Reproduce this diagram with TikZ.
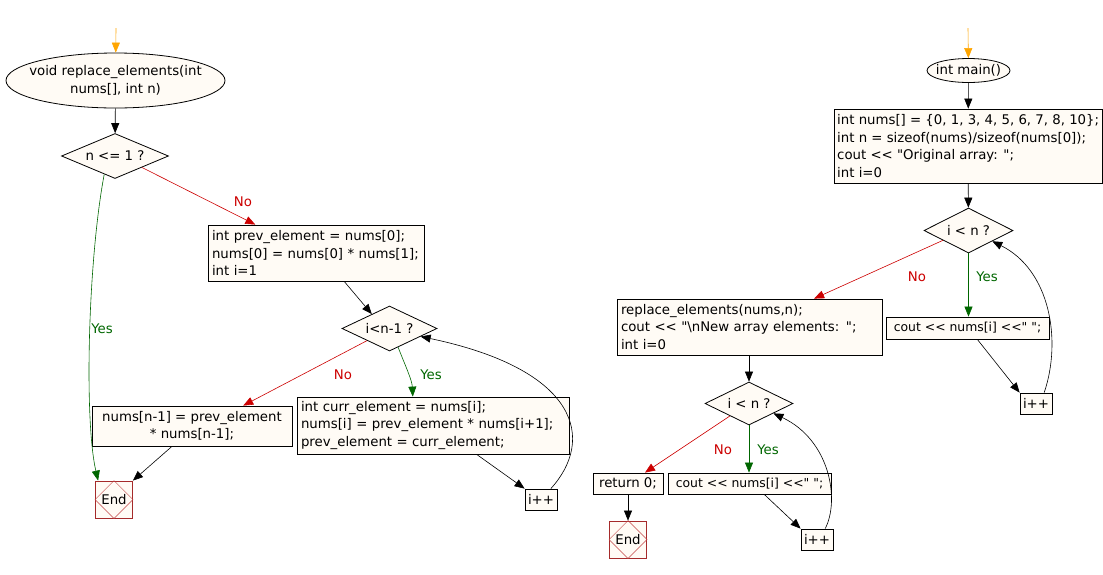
\documentclass[tikz,border=0pt]{standalone}
\usepackage{fontspec}
\newfontfamily\dvfont{DejaVu Sans}
\usetikzlibrary{shapes.geometric,arrows.meta,calc}
\definecolor{boxfill}{HTML}{FFFBF5}
\definecolor{yesgreen}{HTML}{006600}
\definecolor{nored}{HTML}{CC0000}
\definecolor{endred}{HTML}{A52A2A}
\definecolor{endline}{HTML}{C24545}
\definecolor{startorange}{HTML}{FFA500}
\begin{document}
\begin{tikzpicture}[x=1pt,y=-1pt,
  font=\dvfont\fontsize{13.3}{17.5}\selectfont,
  proc/.style={draw, fill=boxfill, rectangle, inner sep=0pt, line width=0.8pt},
  term/.style={ellipse, draw, fill=boxfill, inner sep=0pt, line width=0.8pt},
  dec/.style={diamond, draw, fill=boxfill, inner sep=0pt, aspect=2.4, line width=0.8pt},
  endbox/.style={draw=endred, fill=boxfill, minimum width=37, minimum height=37, inner sep=0pt, line width=0.8pt},
  conn/.style={-{Triangle[length=10pt,width=8pt]}, line width=0.6pt},
  startc/.style={conn, draw=startorange},
  yesc/.style={conn, draw=yesgreen},
  noc/.style={conn, draw=nored},
  yeslbl/.style={text=yesgreen, inner sep=0pt},
  nolbl/.style={text=nored, inner sep=0pt},
  plain/.style={inner sep=0pt, align=center},
  smalltext/.style={font=\dvfont\fontsize{12.4}{17.5}\selectfont}
]
\useasboundingbox (0,0) rectangle (1103,574);

% ---------------- left flow ----------------
\coordinate (st1) at (116,28);
\node[term, minimum width=219, minimum height=55] (s1) at (115.5,80.5) {};
\node[plain] (s1t) at (s1) {void replace\_elements(int\\nums[], int n)};
\node[dec, minimum width=107, minimum height=45] (d1) at (115,156) {n <= 1 ?};
\node[proc, minimum width=216, minimum height=56, text width=208, align=left] (b1) at (316,253)
  {int prev\_element = nums[0];\\nums[0] = nums[0] * nums[1];\\int i=1};
\node[dec, minimum width=95, minimum height=45] (d2) at (389.5,328.5) {i<n-1 ?};
\node[proc, minimum width=200, minimum height=40, align=center] (nm) at (192,426)
  {nums[n-1] = prev\_element\\* nums[n-1];};
\node[proc, minimum width=272, minimum height=57, text width=264, align=left] (ce) at (433,425.5)
  {int curr\_element = nums[i];\\nums[i] = prev\_element * nums[i+1];\\prev\_element = curr\_element;};
\node[proc, minimum width=32, minimum height=21] (i1) at (541,499.5) {i++};
\node[endbox] (e1) at (114,499.5) {};
\draw[endline, line width=0.5pt] (e1.north) -- (e1.east) -- (e1.south) -- (e1.west) -- cycle;
\node[plain] (e1t) at (e1) {End};

\draw[startc] (st1) -- (s1);
\draw[conn] (s1) -- (d1);
\draw[yesc] ($(d1.south)!0.2!(d1.west)$) .. controls (88,260) and (84,420) .. ($(e1.north west)!0.08!(e1.north east)$);
\node[yeslbl] (y1) at (102,329) {Yes};
\draw[noc] ($(d1.south)!0.5!(d1.east)$) -- ($(b1.north west)!0.22!(b1.north east)$);
\node[nolbl] (n1) at (243,202) {No};
\draw[conn] ($(b1.south west)!0.63!(b1.south east)$) -- ($(d2.north)!0.37!(d2.west)$);
\draw[noc] ($(d2.south)!0.47!(d2.west)$) -- ($(nm.north west)!0.755!(nm.north east)$);
\node[nolbl] (n2) at (343,375) {No};
\draw[yesc] ($(d2.south)!0.18!(d2.east)$) .. controls (405,365) and (412,380) .. ($(ce.north west)!0.426!(ce.north east)$);
\node[yeslbl] (y2) at (431,375) {Yes};
\draw[conn] ($(nm.south west)!0.4!(nm.south east)$) -- (e1.north east);
\draw[conn] ($(ce.south west)!0.66!(ce.south east)$) -- (i1.north west);
\draw[conn] ($(i1.north west)!0.8!(i1.north east)$) .. controls (595,440) and (580,370) .. ($(d2.east)!0.35!(d2.south)$);

% ---------------- right flow ----------------
\coordinate (st2) at (968,28);
\node[term, minimum width=83, minimum height=24] (s2) at (968.5,70.5) {};
\node[plain] (s2t) at (s2) {int main()};
\node[proc, minimum width=268, minimum height=74] (m1) at (968,146) {};
\node[inner sep=0pt, align=left, anchor=west] (m1t) at (837,146)
  {int nums[] = \{0, 1, 3, 4, 5, 6, 7, 8, 10\};\\int n = sizeof(nums)/sizeof(nums[0]);\\cout << "Original array: ";\\int i=0};
\node[dec, minimum width=89, minimum height=45] (d3) at (968.5,230.5) {i < n ?};
\node[proc, minimum width=265, minimum height=56, text width=257, align=left] (rep) at (749.5,327)
  {replace\_elements(nums,n);\\cout << "\textbackslash nNew array elements: ";\\int i=0};
\node[proc, smalltext, minimum width=163, minimum height=22] (c1) at (967.5,328) {cout << nums[i] <<" ";};
\node[proc, minimum width=32, minimum height=21] (i2) at (1036,403.5) {i++};
\node[dec, minimum width=88, minimum height=43] (d4) at (749,403.5) {i < n ?};
\node[proc, minimum width=70, minimum height=21] (ret) at (628,483.5) {return 0;};
\node[proc, smalltext, minimum width=163, minimum height=21] (c2) at (749.5,483.5) {cout << nums[i] <<" ";};
\node[endbox] (e2) at (628,539.5) {};
\draw[endline, line width=0.5pt] (e2.north) -- (e2.east) -- (e2.south) -- (e2.west) -- cycle;
\node[plain] (e2t) at (e2) {End};
\node[proc, minimum width=32, minimum height=21] (i3) at (817,539.5) {i++};

\draw[startc] (st2) -- (s2);
\draw[conn] (s2) -- (m1);
\draw[conn] (m1) -- (d3);
\draw[noc] ($(d3.south)!0.57!(d3.west)$) -- ($(rep.north west)!0.743!(rep.north east)$);
\node[nolbl] (n3) at (917,277) {No};
\draw[yesc] (d3.south) -- (d3.south |- c1.north);
\node[yeslbl] (y3) at (987,277) {Yes};
\draw[conn] ($(c1.south west)!0.56!(c1.south east)$) -- (i2.north west);
\draw[conn] ($(i2.north west)!0.75!(i2.north east)$) .. controls (1062,340) and (1050,270) .. ($(d3.east)!0.47!(d3.south)$);
\draw[conn] (rep.south -| d4.north) -- (d4.north);
\draw[noc] ($(d4.south)!0.43!(d4.west)$) -- ($(ret.north west)!0.74!(ret.north east)$);
\node[nolbl] (n4) at (723,450) {No};
\draw[yesc] (d4.south) -- (d4.south |- c2.north);
\node[yeslbl] (y4) at (768,450) {Yes};
\draw[conn] (ret) -- (e2);
\draw[conn] ($(c2.south west)!0.59!(c2.south east)$) -- (i3.north west);
\draw[conn] ($(i3.north west)!0.75!(i3.north east)$) .. controls (840,500) and (830,440) .. ($(d4.east)!0.45!(d4.south)$);
\end{tikzpicture}
\end{document}
